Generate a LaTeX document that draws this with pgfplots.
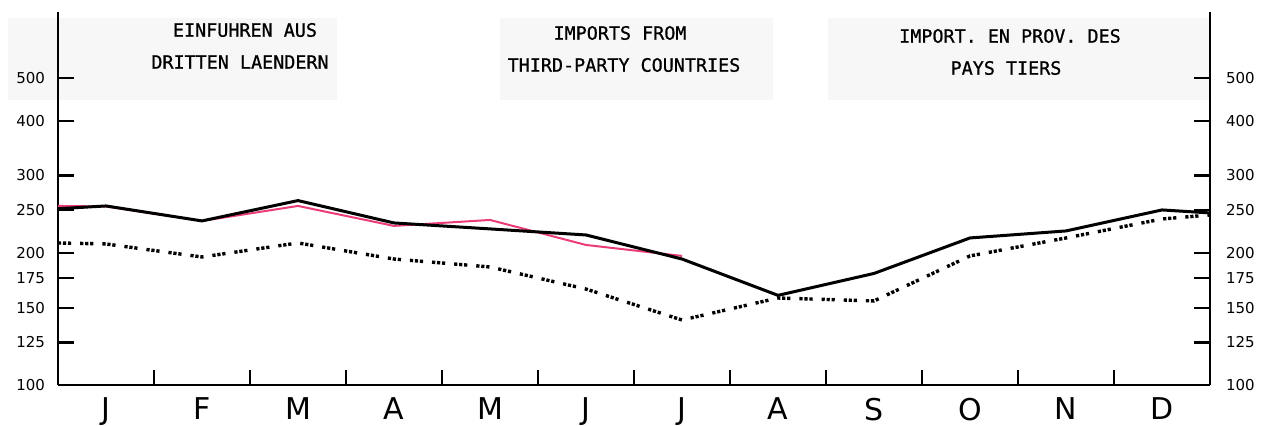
\documentclass[border=0pt]{standalone}
\usepackage{pgfplots}
\pgfplotsset{compat=1.18}
\usepackage{fontspec}
\setmainfont{DejaVu Sans}
\newfontfamily\plotmono[FakeBold=0.8]{DejaVu Sans Mono}
\definecolor{redline}{RGB}{235,60,120}
\definecolor{boxgray}{RGB}{247,247,247}
\pgfplotsset{every tick/.style={black, line width=1.1pt}}

\begin{document}
\begin{tikzpicture}
\useasboundingbox (-29pt,-20pt) rectangle (605pt,192.5pt);
\fill[boxgray] (-25pt,142.5pt) rectangle (139.5pt,183.5pt);
\fill[boxgray] (221pt,142.5pt) rectangle (357.5pt,183.5pt);
\fill[boxgray] (385pt,142.5pt) rectangle (576pt,183.5pt);
\begin{axis}[
  at={(0,0)}, anchor=south west,
  width=576pt, height=186.5pt, scale only axis,
  xmin=0, xmax=12, ymode=log, ymin=100, ymax=707,
  axis x line*=bottom, axis y line*=left,
  axis line style={line width=1.4pt},
  xtick={0.5,1.5,2.5,3.5,4.5,5.5,6.5,7.5,8.5,9.5,10.5,11.5},
  xticklabels={J,F,M,A,M,J,J,A,S,O,N,D},
  major x tick style={draw=none},
  minor xtick={1,2,3,4,5,6,7,8,9,10,11},
  minor x tick style={black, line width=1.3pt},
  minor tick length=7.5pt,
  ytick={100,125,150,175,200,250,300,400,500},
  yticklabels={100,125,150,175,200,250,300,400,500},
  tick align=inside,
  major tick length=8pt,
  yminorticks=false,
  xticklabel style={font=\fontsize{15}{15}\selectfont, yshift=-3pt},
  yticklabel style={font=\fontsize{7.5}{8}\selectfont, xshift=-3pt},
  clip=false,
]
\addplot[redline, line width=1pt] coordinates {
 (0,255.7) (0.5,255) (1.5,236.4) (2.5,255.7) (3.5,230.3) (4.5,237.6) (5.5,208.4) (6.5,196.8)};
\addplot[black, line width=1.5pt] coordinates {
 (0,252) (0.5,255.7) (1.5,236.4) (2.5,263) (3.5,233.9) (4.5,226.7) (5.5,219.6)
 (6.5,193.6) (7.5,160) (8.5,179.5) (9.5,216.2) (10.5,224.3) (11.5,250.4) (12,246.5)};
\addplot[black, line width=1.7pt, line cap=butt,
  dash pattern=on 1.6pt off 0.9pt on 1.6pt off 0.9pt on 1.6pt off 4.5pt] coordinates {
 (0,210.6) (0.5,209.5) (1.5,195.7) (2.5,210.6) (3.5,193.6) (4.5,185.7) (5.5,165.4)
 (6.5,140.6) (7.5,157.8) (8.5,155.4) (9.5,196.8) (10.5,216.2) (11.5,238.8) (12,243.9)};
\end{axis}
\begin{axis}[
  at={(0,0)}, anchor=south west,
  width=576pt, height=186.5pt, scale only axis,
  xmin=0, xmax=12, ymode=log, ymin=100, ymax=707,
  axis x line=none, axis y line*=right,
  axis line style={line width=1.4pt},
  ytick={100,125,150,175,200,250,300,400,500},
  yticklabels={100,125,150,175,200,250,300,400,500},
  yticklabel pos=right,
  tick align=inside,
  major tick length=8pt,
  yminorticks=false,
  yticklabel style={font=\fontsize{7.5}{8}\selectfont, xshift=4.5pt},
]
\end{axis}
\begin{scope}[every node/.style={font=\plotmono\fontsize{9.2}{10}\selectfont, inner sep=0pt}]
\node at (93.5pt,177.5pt) {EINFUHREN AUS};
\node at (91pt,161.5pt) {DRITTEN LAENDERN};
\node at (281pt,176pt) {IMPORTS FROM};
\node at (283pt,160pt) {THIRD-PARTY COUNTRIES};
\node at (476pt,174.5pt) {IMPORT. EN PROV. DES};
\node at (474pt,158.5pt) {PAYS TIERS};
\end{scope}
\end{tikzpicture}
\end{document}
